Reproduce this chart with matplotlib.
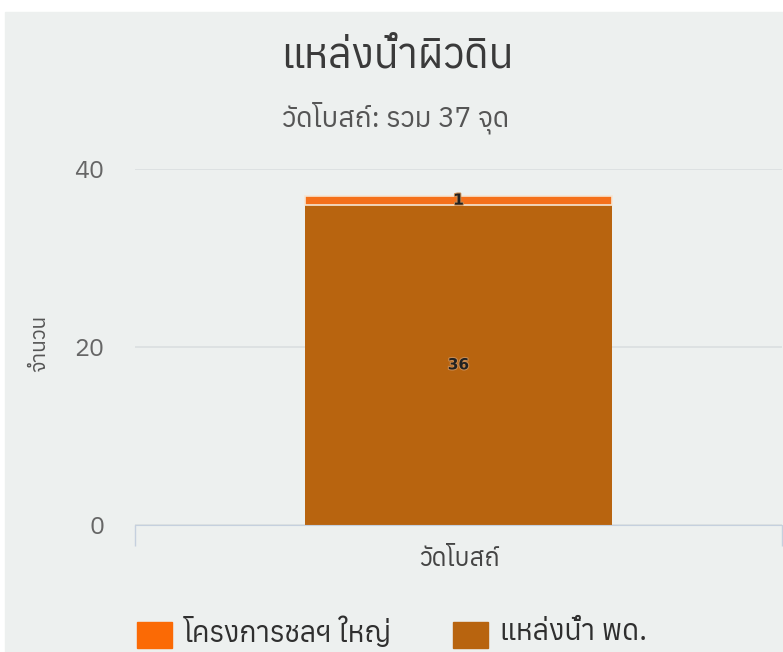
import matplotlib
matplotlib.use('Agg')
import matplotlib.pyplot as plt
import matplotlib.patheffects as pe
from matplotlib import font_manager as fm
from matplotlib.patches import Rectangle

# หา font ที่มีอักษรไทย
thai = []
for f in fm.fontManager.ttflist:
    try:
        cmap = fm.get_font(f.fname).get_charmap()
    except Exception:
        continue
    if 0x0E01 in cmap:
        thai.append(f.name)
plt.rcParams['font.family'] = sorted(set(thai)) + ['DejaVu Sans']

categories = ['วัดโบสถ์']
large_project = [1]
dept_water = [36]
y_ticks = [0, 20, 40]

ORANGE = '#f5701a'
BROWN = '#b8640f'
W, H = 783, 652

fig = plt.figure(figsize=(W / 100, H / 100), dpi=100, facecolor='white')
# พื้นหลังสีเทาอ่อน
fig.add_artist(Rectangle((5 / W, 0), 778 / W, 1 - 12 / H, color='#edf0ef', transform=fig.transFigure, zorder=-1))

ax = fig.add_axes([135 / W, 1 - 525 / H, 647 / W, 356 / H])
ax.set_facecolor('none')
ax.bar(categories, dept_water, width=0.476, color=BROWN)
ax.bar(categories, large_project, bottom=dept_water, width=0.476, color=ORANGE,
       edgecolor='#f6e6d4', linewidth=1.2)
ax.set_ylim(0, 40)
ax.set_xlim(-0.5, 0.5)
ax.set_yticks(y_ticks)
ax.set_xticks([-0.5, 0.5], ['', ''])
ax.grid(axis='y', color='#dadfe0', linewidth=1.2)
ax.grid(axis='x', visible=False)
ax.set_axisbelow(True)
for s in ['top', 'right', 'left']:
    ax.spines[s].set_visible(False)
ax.spines['bottom'].set_color('#c5d0de')
ax.tick_params(axis='y', length=0, labelsize=18, labelcolor='#666666', pad=22)
ax.tick_params(axis='x', length=15, color='#c5d0de', width=1)
ax.text(0, 36.5, '1', ha='center', va='center', fontsize=11, fontweight='bold', color='#222222',
        family=['DejaVu Sans'], path_effects=[pe.withStroke(linewidth=1.5, foreground='#c98a50')])
ax.text(0, 18, '36', ha='center', va='center', fontsize=11, fontweight='bold', color='#222222',
        family=['DejaVu Sans'], path_effects=[pe.withStroke(linewidth=1.5, foreground='#c98a50')])

fig.text(40 / W, 1 - 343 / H, 'จำนวน', rotation=90, ha='center', va='center', fontsize=15, color='#555555')
fig.text(459 / W, 1 - 560 / H, categories[0], ha='center', va='center', fontsize=18, color='#444444')
fig.text(397 / W, 1 - 57 / H, 'แหล่งน้ำผิวดิน', ha='center', va='center', fontsize=29.5, color='#3a3a3a')
fig.text(396 / W, 1 - 118 / H, 'วัดโบสถ์: รวม 37 จุด', ha='center', va='center', fontsize=20, color='#555555')

fig.add_artist(Rectangle((137 / W, 1 - 648 / H), 35 / W, 26 / H, color='#fb6a05', transform=fig.transFigure))
fig.text(184 / W, 1 - 632 / H, 'โครงการชลฯ ใหญ่', va='center', fontsize=20.5, color='#2f2f2f')
fig.add_artist(Rectangle((453 / W, 1 - 648 / H), 35 / W, 26 / H, color=BROWN, transform=fig.transFigure))
fig.text(500 / W, 1 - 632 / H, 'แหล่งน้ำ พด.', va='center', fontsize=20.5, color='#2f2f2f')

fig.savefig('out.png', dpi=100)
